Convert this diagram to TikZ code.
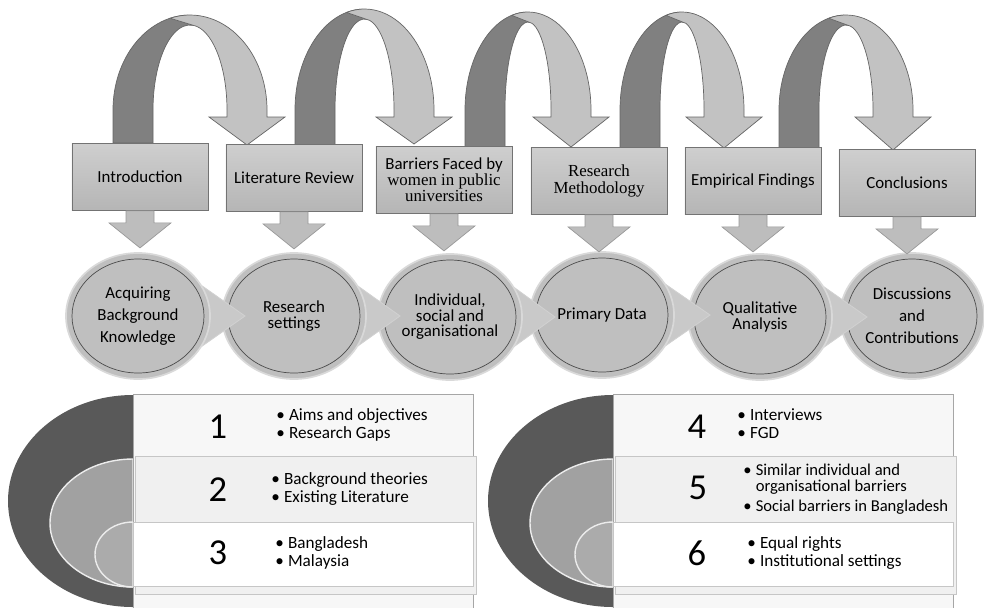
\documentclass[tikz,border=0pt]{standalone}
\usepackage{fontspec}
\setmainfont{Carlito}
\newfontfamily\cambria{Liberation Serif}
\usetikzlibrary{shapes.geometric,calc}

\begin{document}
\begin{tikzpicture}[x=0.025cm,y=-0.025cm]
\tikzset{etape/.style={draw=black!55, top color=gray!38, bottom color=gray!58, minimum width=3.4cm, minimum height=1.68cm, inner sep=2pt, align=center, font=\fontsize{12}{11.5}\selectfont}}
\tikzset{bulle/.style={ellipse, draw=gray!30, line width=1.2pt, fill=gray!50, minimum width=3.6cm, minimum height=3.15cm, inner sep=0pt, align=center, font=\fontsize{12}{11}\selectfont}}
\tikzset{contour/.style={draw=black!70, line width=0.5pt}}
\tikzset{languette/.style={fill=gray!42, draw=gray!36, line width=0.6pt}}
\tikzset{fleche/.style={fill=gray!52, draw=black!40, line width=0.5pt}}
\tikzset{dos/.style={fill=gray, draw=black!60, line width=0.5pt}}
\tikzset{face/.style={fill=gray!48, draw=black!60, line width=0.5pt}}
\tikzset{chiffre/.style={font=\fontsize{26}{28}\selectfont, inner sep=0pt}}
\tikzset{puces/.style={anchor=west, inner sep=0pt, font=\fontsize{12.2}{13}\selectfont}}
\useasboundingbox (0,0) rectangle (984,607);
\clip (0,0) rectangle (984,607);
% arcs du haut
\foreach \lc/\rc/\tp/\yb/\yt in {133/247/15/143/145, 315/414/9/145/144, 485/571/12/147/147, 640/724/12/148/148, 799/893/15/150/150}{
  \pgfmathsetmacro\cx{(\lc+\rc)/2}
  \pgfmathsetmacro\Rx{(\rc-\lc)/2+20}
  \pgfmathsetmacro\rx{(\rc-\lc)/2-20}
  \pgfmathsetmacro\Ry{110-\tp}
  \pgfmathsetmacro\ry{100-\tp}
  \pgfmathsetmacro\ax{\cx+\rx*cos(275)}
  \pgfmathsetmacro\ay{110+\ry*sin(275)}
  \pgfmathsetmacro\bx{\cx+\Rx*cos(255)}
  \pgfmathsetmacro\by{110+\Ry*sin(255)}
  \filldraw[dos] (\lc-20,\yb) -- (\lc-20,110) arc[start angle=180, end angle=268, x radius=\Rx, y radius=\Ry] -- (\ax,\ay) arc[start angle=275, end angle=180, x radius=\rx, y radius=\ry] -- (\lc+20,\yb) -- cycle;
  \filldraw[face] (\bx,\by) arc[start angle=255, end angle=360, x radius=\Rx, y radius=\Ry] -- (\rc+20,117) -- (\rc+38,117) -- (\rc,\yt) -- (\rc-38,117) -- (\rc-20,117) -- (\rc-20,110) arc[start angle=360, end angle=280, x radius=\rx, y radius=\ry] -- cycle;
}
% etapes
\node[etape] (T1) at (140,177) {Introduction};
\node[etape] (T2) at (294,178) {Literature Review};
\node[etape] (T3) at (444,180) {Barriers Faced by\\ \cambria women in public\\ \cambria universities};
\node[etape] (T4) at (599,181) {\cambria Research\\ \cambria Methodology};
\node[etape] (T5) at (753,181) {Empirical Findings};
\node[etape] (T6) at (907,183) {Conclusions};
% bulles
\node[bulle, font=\fontsize{12}{15.5}\selectfont] (C6) at (912,316) {Discussions\\ and\\ Contributions};
\draw[contour] (C6.center) ellipse [x radius=65, y radius=57];
\filldraw[languette] (800,270) -- (867,317) -- (800,364) -- cycle;
\node[bulle] (C5) at (760,317) {Qualitative\\ Analysis};
\draw[contour] (C5.center) ellipse [x radius=66, y radius=57];
\filldraw[languette] (642,268) -- (710,315) -- (642,362) -- cycle;
\node[bulle] (C4) at (602,315) {Primary Data};
\draw[contour] (C4.center) ellipse [x radius=66, y radius=57];
\filldraw[languette] (490,270) -- (555,317) -- (490,364) -- cycle;
\node[bulle] (C3) at (450,317) {Individual,\\ social and\\ organisational};
\draw[contour] (C3.center) ellipse [x radius=66, y radius=57];
\filldraw[languette] (334,269) -- (400,316) -- (334,363) -- cycle;
\node[bulle] (C2) at (294,316) {Research\\ settings};
\draw[contour] (C2.center) ellipse [x radius=66, y radius=57];
\filldraw[languette] (178,269) -- (245,316) -- (178,363) -- cycle;
\node[bulle, font=\fontsize{12}{15.5}\selectfont] (C1) at (138,316) {Acquiring\\ Background\\ Knowledge};
\draw[contour] (C1.center) ellipse [x radius=66, y radius=57];
% fleches vers les bulles
\foreach \i in {1,...,6}
  \filldraw[fleche] (T\i.south) ++(-14,0) -- ++(0,12) -- ++(-17,0) -- ++(31,25) -- ++(31,-25) -- ++(-17,0) -- ++(0,-12) -- cycle;
% listes du bas
\fill[black!65] (133,395) arc[start angle=270, end angle=90, x radius=125, y radius=106] -- cycle;
\filldraw[fill=black!37, draw=gray!15, line width=1pt] (133,459) arc[start angle=270, end angle=90, x radius=83, y radius=64] -- cycle;
\filldraw[fill=black!33, draw=gray!15, line width=1pt] (133,522) arc[start angle=270, end angle=90, x radius=38, y radius=32.5] -- cycle;
\filldraw[fill=gray!6, draw=gray!70] (133,394) rectangle (473,612);
\filldraw[fill=gray!12, draw=gray!45] (135,456) rectangle (476,594);
\filldraw[fill=white, draw=gray!45] (133,522) rectangle (473,586);
\fill[black!65] (613,395) arc[start angle=270, end angle=90, x radius=125, y radius=106] -- cycle;
\filldraw[fill=black!37, draw=gray!15, line width=1pt] (613,459) arc[start angle=270, end angle=90, x radius=83, y radius=64] -- cycle;
\filldraw[fill=black!33, draw=gray!15, line width=1pt] (613,522) arc[start angle=270, end angle=90, x radius=38, y radius=32.5] -- cycle;
\filldraw[fill=gray!6, draw=gray!70] (613,394) rectangle (953,612);
\filldraw[fill=gray!12, draw=gray!45] (615,456) rectangle (956,594);
\filldraw[fill=white, draw=gray!45] (613,522) rectangle (953,586);
\node[chiffre] (N1) at (218,427) {1};
\node[chiffre] (N2) at (218,490) {2};
\node[chiffre] (N3) at (218,553) {3};
\node[chiffre] (N4) at (697,427) {4};
\node[chiffre] (N5) at (698,488) {5};
\node[chiffre] (N6) at (697,553) {6};
\node[puces] (P1) at (276,426) {\begin{tabular}{@{}l@{\hspace{3pt}}l@{}}\textbullet & Aims and objectives\\ \textbullet & Research Gaps\end{tabular}};
\node[puces] (P2) at (271,490) {\begin{tabular}{@{}l@{\hspace{3pt}}l@{}}\textbullet & Background theories\\ \textbullet & Existing Literature\end{tabular}};
\node[puces] (P3) at (275,554) {\begin{tabular}{@{}l@{\hspace{3pt}}l@{}}\textbullet & Bangladesh\\ \textbullet & Malaysia\end{tabular}};
\node[puces] (P4) at (737,426) {\begin{tabular}{@{}l@{\hspace{3pt}}l@{}}\textbullet & Interviews\\ \textbullet & FGD\end{tabular}};
\node[puces, font=\fontsize{11.8}{11}\selectfont] (P5) at (743,490) {\begin{tabular}{@{}l@{\hspace{3pt}}l@{}}\textbullet & Similar individual and\\ & organisational barriers\\[3pt] \textbullet & Social barriers in Bangladesh\end{tabular}};
\node[puces] (P6) at (747,554) {\begin{tabular}{@{}l@{\hspace{3pt}}l@{}}\textbullet & Equal rights\\ \textbullet & Institutional settings\end{tabular}};
\end{tikzpicture}
\end{document}
